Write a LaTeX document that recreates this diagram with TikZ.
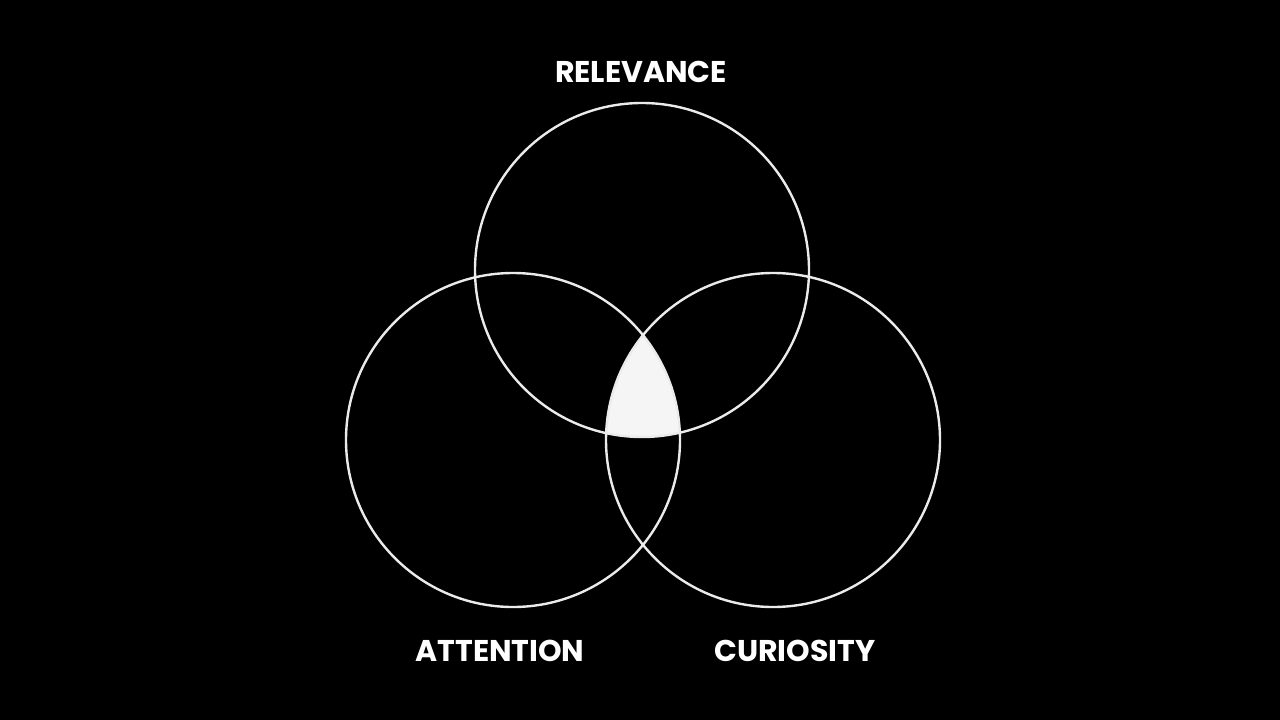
\documentclass[tikz,border=0pt]{standalone}
\usepackage{fontspec}
\setmainfont{Poppins}
\begin{document}
\begin{tikzpicture}[x=1pt,y=-1pt,
  ring/.style={draw=white!92!black,line width=2.4pt},
  lbl/.style={text=white,font=\bfseries\fontsize{30}{36}\selectfont,inner sep=0pt}]
\fill[black] (0,0) rectangle (1280,720);
\useasboundingbox (0,0) rectangle (1280,720);
\coordinate (ct) at (642,270);
\coordinate (cl) at (513,440);
\coordinate (cr) at (773,440);
\begin{scope}
  \clip (ct) circle[radius=167];
  \clip (cl) circle[radius=167];
  \fill[white!96!black] (cr) circle[radius=167];
\end{scope}
\draw[ring] (ct) circle[radius=167];
\draw[ring] (cl) circle[radius=167];
\draw[ring] (cr) circle[radius=167];
\node[lbl] (rel) at (641,72) {RELEVANCE};
\node[lbl] (att) at (500,651) {ATTENTION};
\node[lbl] (cur) at (795,651) {CURIOSITY};
\end{tikzpicture}
\end{document}
